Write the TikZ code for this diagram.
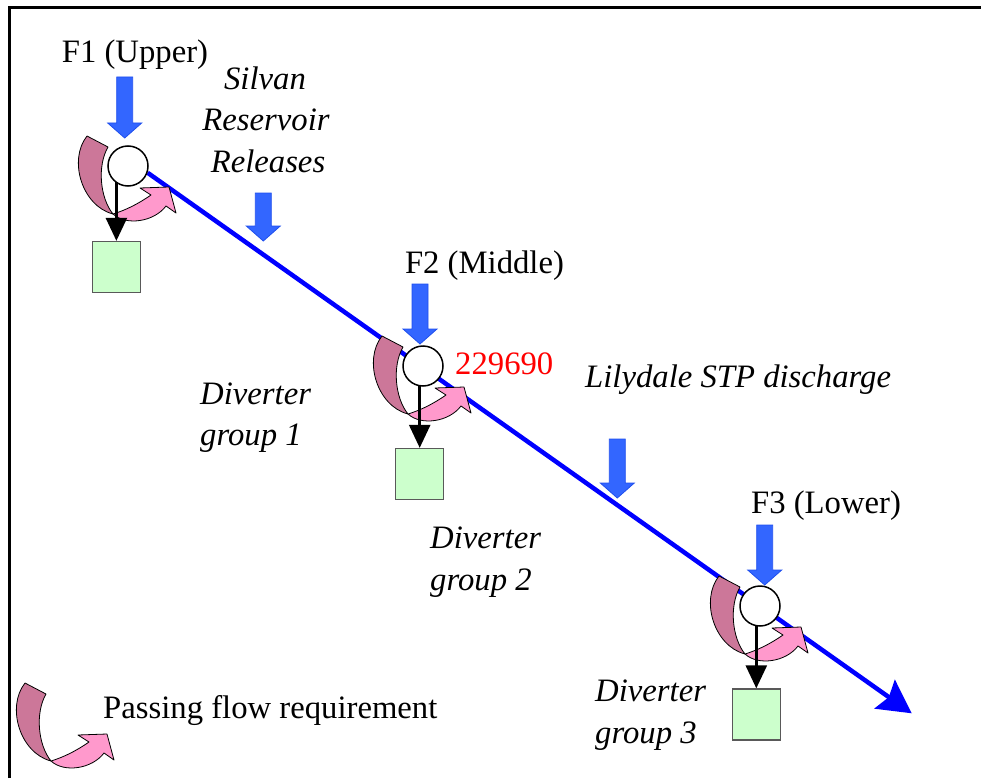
\documentclass[tikz,border=0pt]{standalone}
\usepackage{fontspec}
\setmainfont{Liberation Serif}
\usetikzlibrary{arrows.meta}
\pgfdeclarelayer{bg}
\pgfsetlayers{bg,main}
\definecolor{pinkdark}{HTML}{CC7799}
\definecolor{pinklight}{HTML}{FF99CC}
\definecolor{blockblue}{HTML}{3366FF}
\definecolor{blockedge}{HTML}{1F4FEE}
\definecolor{boxgreen}{HTML}{CCFFCC}
\tikzset{
  circ/.style={circle, draw=black, fill=white, line width=1.5pt, minimum size=40pt, inner sep=0pt},
  gbox/.style={draw=black!65, fill=boxgreen, line width=1.3pt, minimum width=48pt, minimum height=51pt, inner sep=0pt},
  blackarr/.style={line width=2.6pt, -{Triangle[width=21pt,length=23pt]}},
  mainline/.style={draw=blue, line width=4.5pt, -{Stealth[width=35pt,length=33pt,inset=5pt]}},
  pinkedge/.style={draw=black, line width=0.8pt, line join=round},
  blockstyle/.style={fill=blockblue, draw=blockedge, line width=0.8pt, line join=miter},
  lbl/.style={inner sep=0pt, anchor=base},
  lblw/.style={inner sep=0pt, anchor=base west},
  itl/.style={font=\fontsize{32.7}{38}\selectfont\itshape},
  pics/passflow/.style={code={
    \filldraw[pinkedge, fill=pinklight] (-15,48) .. controls (-2,60) and (26,56) .. (38,40)
      -- (48,47) -- (41,21) -- (12,22) -- (23,29) .. controls (10,38) and (-2,44) .. (-15,48) -- cycle;
    \filldraw[pinkedge, fill=pinkdark] (-41,-30) .. controls (-60,-6) and (-46,40) .. (-15,48)
      .. controls (-28,32) and (-31,0) .. (-20,-19) -- cycle;
  }},
  pics/blockdown/.style={code={
    \filldraw[blockstyle] (-8,0) -- (8,0) -- (8,#1-15) -- (17,#1-15) -- (0,#1) -- (-17,#1-15) -- (-8,#1-15) -- cycle;
  }}
}
\begin{document}
\begin{tikzpicture}[x=1pt,y=-1pt,font=\fontsize{32.7}{38}\selectfont]
\useasboundingbox (0,0) rectangle (981,778);
% frame
\draw[line width=3pt] (9,778) -- (9,8) -- (981,8);

% flow nodes
\node[circ] (c1) at (128,166) {};
\node[circ] (c2) at (423,366) {};
\node[circ] (c3) at (760,606) {};
\node[gbox] (b1) at (116.4,267) {};
\node[gbox] (b2) at (419.7,474) {};
\node[gbox] (b3) at (756.3,714.5) {};
\coordinate (tip) at (911.7,713.3);

\begin{pgfonlayer}{bg}
  \draw[mainline] (c1.-19) -- (tip);
  \pic at (c1.center) {passflow};
  \pic at (c2.center) {passflow};
  \pic at (c3.center) {passflow};
  \draw[blackarr] (c1.center -| b1.north) -- (b1.north);
  \draw[blackarr] (c2.center -| b2.north) -- (b2.north);
  \draw[blackarr] (c3.center -| b3.north) -- (b3.north);
\end{pgfonlayer}

% inflow block arrows
\pic at (124.7,77) {blockdown=61};
\pic at (263.3,193) {blockdown=48};
\pic at (420,284) {blockdown=60};
\pic at (617.3,439) {blockdown=59};
\pic at (764.7,525) {blockdown=60};

% legend
\pic at (66,713) {passflow};

% labels
\node[lbl] (t1) at (135,63) {F1 (Upper)};
\node[lbl, itl] (s1) at (265,90) {Silvan};
\node[lbl, itl] (s2) at (266,131) {Reservoir};
\node[lbl, itl] (s3) at (268,172) {Releases};
\node[lbl] (t2) at (484.5,273) {F2 (Middle)};
\node[lblw, text=red] (n2) at (455,374) {229690};
\node[lblw, itl] (ly) at (585,387) {Lilydale STP discharge};
\node[lblw, itl] (d1a) at (200,404) {Diverter};
\node[lblw, itl] (d1b) at (200,445) {group 1};
\node[lbl] (t3) at (826,513) {F3 (Lower)};
\node[lblw, itl] (d2a) at (430,548) {Diverter};
\node[lblw, itl] (d2b) at (430,590) {group 2};
\node[lblw, itl] (d3a) at (595,701) {Diverter};
\node[lblw, itl] (d3b) at (595,743) {group 3};
\node[lblw] (lg) at (103,718) {Passing flow requirement};
\end{tikzpicture}
\end{document}
